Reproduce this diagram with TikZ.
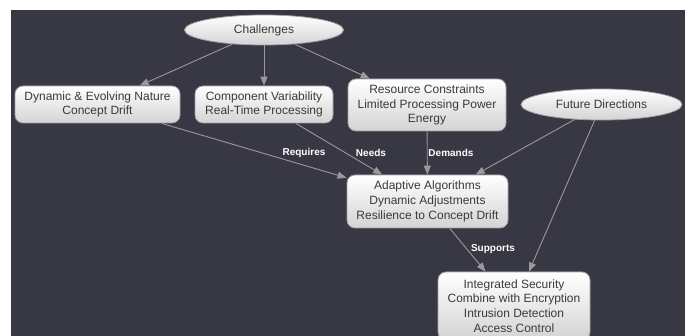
\documentclass[tikz,border=0pt]{standalone}
\usepackage{fontspec}
\setmainfont{Liberation Sans}
\usetikzlibrary{shapes.geometric,arrows.meta}
\definecolor{bgdark}{HTML}{383844}
\definecolor{edgegray}{HTML}{9A9A9A}
\definecolor{nodetext}{HTML}{3A3A3A}
\definecolor{nodeborder}{HTML}{A0A0A0}
\tikzset{
  boxnode/.style={draw=nodeborder, line width=0.8pt, rounded corners=8pt,
    top color=white, bottom color=black!17, text=nodetext, align=center,
    font=\fontsize{12}{14.8}\selectfont, inner sep=2pt},
  ovalnode/.style={ellipse, draw=nodeborder, line width=0.8pt,
    top color=white, bottom color=black!17, text=nodetext, align=center,
    font=\fontsize{12}{14.8}\selectfont, inner sep=0pt},
  conn/.style={draw=edgegray, line width=0.9pt,
    -{Triangle[length=9pt,width=7pt,fill=edgegray]}},
  edgelabel/.style={text=white, font=\bfseries\fontsize{10}{12}\selectfont, inner sep=1pt}
}
\begin{document}
\begin{tikzpicture}[x=1pt,y=-1pt]
\useasboundingbox (0,0) rectangle (688,336);
\clip (0,0) rectangle (688,336);
\fill[white] (0,0) rectangle (688,336);
\fill[bgdark] (11,10) rectangle (685,336);

\node[ovalnode, minimum width=159pt, minimum height=30pt] (chal) at (264,30) {Challenges};
\node[ovalnode, minimum width=161pt, minimum height=31pt] (fut) at (601.5,104.5) {Future Directions};

\node[boxnode, minimum width=165pt, minimum height=37pt] (dyn) at (97.5,104.5) {Dynamic \& Evolving Nature\\Concept Drift};
\node[boxnode, minimum width=138pt, minimum height=37pt] (comp) at (264,104.5) {Component Variability\\Real-Time Processing};
\node[boxnode, minimum width=158pt, minimum height=52pt] (res) at (427,105) {Resource Constraints\\Limited Processing Power\\Energy};
\node[boxnode, minimum width=161pt, minimum height=53pt] (adapt) at (427.5,201.5) {Adaptive Algorithms\\Dynamic Adjustments\\Resilience to Concept Drift};
\node[boxnode, minimum width=152pt, minimum height=68pt] (integ) at (514,306) {Integrated Security\\Combine with Encryption\\Intrusion Detection\\Access Control};

\draw[conn] (chal) -- (dyn);
\draw[conn] (chal) -- (comp);
\draw[conn] (chal) -- (res);
\draw[conn] (dyn) -- (adapt);
\draw[conn] (comp) -- (adapt);
\draw[conn] (res) -- (adapt);
\draw[conn] (fut) -- (adapt);
\draw[conn] (fut) -- (integ);
\draw[conn] (adapt) -- (integ);

\node[edgelabel] (lreq) at (304,153) {Requires};
\node[edgelabel] (lneed) at (371,153) {Needs};
\node[edgelabel] (ldem) at (451,153) {Demands};
\node[edgelabel] (lsup) at (493,249) {Supports};
\end{tikzpicture}
\end{document}
